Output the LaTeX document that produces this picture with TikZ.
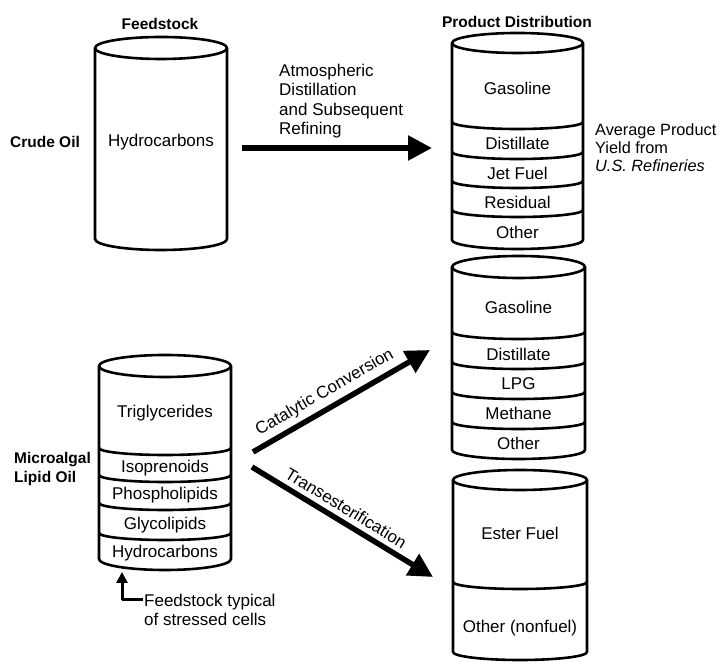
\documentclass[tikz,border=0pt]{standalone}
\usepackage{fontspec}
\setmainfont{Liberation Sans}
\usetikzlibrary{arrows.meta}
\newcommand\cylbody[6]{%
  \draw[cyl] (#1-#2,#3) -- (#1-#2,#5) arc[start angle=180,end angle=360,x radius=#2,y radius=#6] -- (#1+#2,#3);
  \draw[cyl] (#1,#3) ellipse[x radius=#2,y radius=#4];}
\newcommand\cyldiv[4]{%
  \draw[cyl] (#1-#2,#3) arc[start angle=180,end angle=360,x radius=#2,y radius=#4];}
\begin{document}
\begin{tikzpicture}[x=1pt,y=1pt,
  cyl/.style={line width=2.6pt, line join=round},
  lab/.style={font=\fontsize{17}{19}\selectfont, inner sep=1pt},
  head/.style={font=\fontsize{15.5}{19}\selectfont\bfseries, inner sep=1pt},
  bigarrow/.style={line width=5.5pt, -{Triangle[length=24pt,width=24pt]}},
  smallarrow/.style={line width=3pt, -{Triangle[length=11pt,width=11pt]}}]
\useasboundingbox (0,0) rectangle (723,664);
\fill[white] (0,0) rectangle (723,664);

% ---------- Crude oil feedstock ----------
\cylbody{161}{66}{616}{11}{425}{11}
\node[head] (feed) at (160,640) {Feedstock};
\node[lab] (hc1) at (161,522) {Hydrocarbons};
\node[head] (crude) at (45,522) {Crude Oil};

% ---------- Product distribution 1 ----------
\node[head] (pd) at (517,642) {Product Distribution};
\cylbody{517.5}{65.5}{621}{10}{424}{9}
\cyldiv{517.5}{65.5}{542}{7}
\cyldiv{517.5}{65.5}{512}{7}
\cyldiv{517.5}{65.5}{483}{7}
\cyldiv{517.5}{65.5}{454}{7}
\node[lab] (g1) at (517.5,576) {Gasoline};
\node[lab] (d1) at (517.5,521) {Distillate};
\node[lab] (j1) at (517.5,491) {Jet Fuel};
\node[lab] (r1) at (517.5,462) {Residual};
\node[lab] (o1) at (517.5,432) {Other};
\node[lab, anchor=west, align=left, font=\fontsize{16.3}{18}\selectfont] (avg) at (594,516)
  {Average Product\\Yield from\\\textit{U.S. Refineries}};

% ---------- Product distribution 2 ----------
\cylbody{518.5}{66.5}{397}{11}{214}{9}
\cyldiv{518.5}{66.5}{332}{7}
\cyldiv{518.5}{66.5}{302}{7}
\cyldiv{518.5}{66.5}{272}{7}
\cyldiv{518.5}{66.5}{242}{7}
\node[lab] (g2) at (518.5,357) {Gasoline};
\node[lab] (d2) at (518.5,310) {Distillate};
\node[lab] (l2) at (518.5,280) {LPG};
\node[lab] (m2) at (518.5,251) {Methane};
\node[lab] (o2) at (518.5,221) {Other};

% ---------- Product distribution 3 ----------
\cylbody{520}{67}{184}{10}{12}{8}
\cyldiv{520}{67}{82}{7}
\node[lab] (e3) at (520,131) {Ester Fuel};
\node[lab] (o3) at (520,36) {Other (nonfuel)};

% ---------- Microalgal lipid oil ----------
\cylbody{165}{66}{298}{11}{105}{11}
\cyldiv{165}{66}{216}{7}
\cyldiv{165}{66}{189}{7}
\cyldiv{165}{66}{161}{7}
\cyldiv{165}{66}{131}{7}
\node[lab] (tg) at (165,251) {Triglycerides};
\node[lab] (ip) at (165,196) {Isoprenoids};
\node[lab] (ph) at (165,169) {Phospholipids};
\node[lab] (gl) at (165,139) {Glycolipids};
\node[lab] (hc2) at (165,111) {Hydrocarbons};
\node[head, anchor=west, align=left] (micro) at (13,195.5) {Microalgal\\Lipid Oil};

% ---------- Stressed cells note ----------
\node[lab, anchor=west, align=left] (note) at (143,54.5) {Feedstock typical\\of stressed cells};
\coordinate (ncorner) at (122,64);
\coordinate (ntip) at (122,92);
\draw[line width=3pt] (note.west |- ncorner) -- (ncorner);
\draw[smallarrow] (ncorner) -- (ntip);

% ---------- Arrows ----------
\coordinate (a1s) at (242,516);
\coordinate (a1e) at (432,516);
\draw[bigarrow] (a1s) -- (a1e);
\node[lab, anchor=west, align=left, font=\fontsize{17}{19.3}\selectfont] (atm) at (278,563)
  {Atmospheric\\Distillation\\and Subsequent\\Refining};

\coordinate (a2s) at (253,212);
\coordinate (a2e) at (430,314);
\draw[bigarrow] (a2s) -- node[lab, pos=0.45, sloped, above=4pt] (cat) {Catalytic Conversion} (a2e);

\coordinate (a3s) at (252,197);
\coordinate (a3e) at (433,87);
\draw[bigarrow] (a3s) -- node[lab, pos=0.48, sloped, above=4pt] (trans) {Transesterification} (a3e);
\end{tikzpicture}
\end{document}
